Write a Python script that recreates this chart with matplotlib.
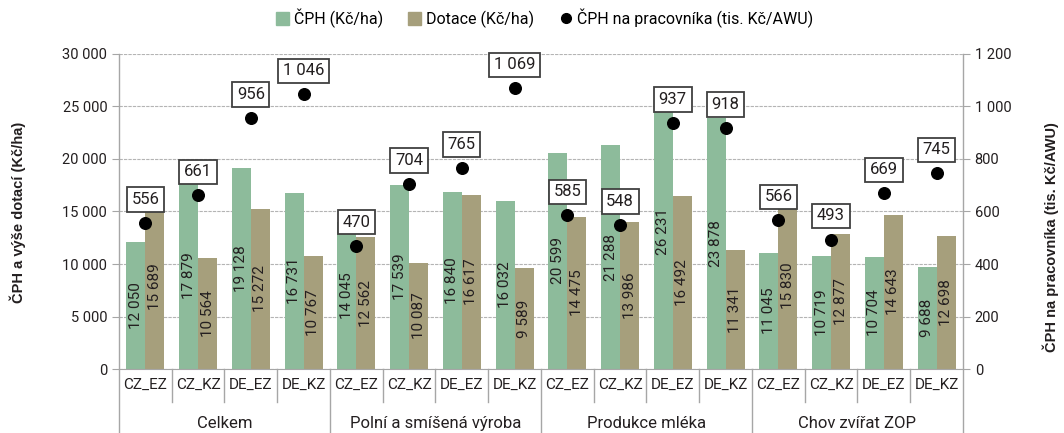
import matplotlib.pyplot as plt
from matplotlib.lines import Line2D
from matplotlib.patches import Patch
from matplotlib.ticker import FuncFormatter

# data
groups = ['Celkem', 'Polní a smíšená výroba', 'Produkce mléka', 'Chov zvířat ZOP']
subgroups = ['CZ_EZ', 'CZ_KZ', 'DE_EZ', 'DE_KZ']
cph = [12050, 17879, 19128, 16731, 14045, 17539, 16840, 16032,
       20599, 21288, 26231, 23878, 11045, 10719, 10704, 9688]
dotace = [15689, 10564, 15272, 10767, 12562, 10087, 16617, 9589,
          14475, 13986, 16492, 11341, 15830, 12877, 14643, 12698]
awu = [556, 661, 956, 1046, 470, 704, 765, 1069,
       585, 548, 937, 918, 566, 493, 669, 745]

green = '#8dbb9b'
brown = '#a69f7c'
gray = '#a6a6a6'
txt = '#231f20'
plt.rcParams['font.family'] = ['Roboto', 'DejaVu Sans']


def fmt(v):
    return f'{int(v):,}'.replace(',', ' ')


fig = plt.figure(figsize=(10.64, 4.33), dpi=100)
ax = fig.add_axes([0.1118, 0.1478, 0.7932, 0.7275])
ax2 = ax.twinx()

n = len(cph)
x = list(range(n))
w = 0.36
ax.bar([i - w / 2 for i in x], cph, width=w, color=green, zorder=2)
ax.bar([i + w / 2 for i in x], dotace, width=w, color=brown, zorder=2)

for i in x:
    ax.text(i - w / 2, cph[i] / 2, fmt(cph[i]), rotation=90, ha='center', va='center',
            fontsize=11, color=txt, zorder=3)
    ax.text(i + w / 2, dotace[i] / 2, fmt(dotace[i]), rotation=90, ha='center', va='center',
            fontsize=11, color=txt, zorder=3)

ax.set_xlim(-0.5, n - 0.5)
ax.set_ylim(0, 30000)
ax.set_yticks(range(0, 30001, 5000))
ax.yaxis.set_major_formatter(FuncFormatter(lambda v, p: fmt(v)))
ax.grid(axis='y', color='#b4b4b4', linestyle=(0, (3, 1)), linewidth=0.8, zorder=0)
ax.set_axisbelow(True)
ax.set_xticks([])

ax2.set_ylim(0, 1200)
ax2.set_yticks(range(0, 1201, 200))
ax2.yaxis.set_major_formatter(FuncFormatter(lambda v, p: fmt(v)))
ax2.scatter(x, awu, s=70, color='black', zorder=5)
for i in x:
    ax2.annotate(fmt(awu[i]), (i, awu[i]), xytext=(0, 17), textcoords='offset points',
                 ha='center', va='center', fontsize=12, color=txt, zorder=6,
                 bbox=dict(boxstyle='square,pad=0.28', fc='white', ec='#404040', lw=1.3))

for a in (ax, ax2):
    for s in ('top', 'left', 'right'):
        a.spines[s].set_visible(False)
    a.spines['bottom'].set_color(gray)
    a.tick_params(axis='y', colors=gray, labelcolor=txt, labelsize=10.5, length=5, width=0.8)
ax2.spines['bottom'].set_visible(False)

# axis lines and separators below the plot
tr = ax.get_xaxis_transform()
ax.add_line(Line2D([-0.5, -0.5], [1, -0.2], transform=tr, color=gray, lw=1, clip_on=False))
ax.add_line(Line2D([n - 0.5, n - 0.5], [1, -0.2], transform=tr, color=gray, lw=1, clip_on=False))
for k in range(1, n):
    low = -0.2 if k % 4 == 0 else -0.105
    ax.add_line(Line2D([k - 0.5, k - 0.5], [0, low], transform=tr, color=gray, lw=1, clip_on=False))
for i in x:
    ax.text(i, -0.05, subgroups[i % 4], transform=tr, ha='center', va='center',
            fontsize=11, color=txt)
for g, name in enumerate(groups):
    ax.text(g * 4 + 1.5, -0.172, name, transform=tr, ha='center', va='center',
            fontsize=12, color=txt)

fig.text(0.017, 0.51, 'ČPH a výše dotací (Kč/ha)', rotation=90, ha='center', va='center',
         fontsize=10.5, fontweight='bold', family='Liberation Sans', color=txt)
fig.text(0.988, 0.453, 'ČPH na pracovníka (tis. Kč/AWU)', rotation=90, ha='center', va='center',
         fontsize=10.5, fontweight='bold', family='Liberation Sans', color=txt)

handles = [Patch(color=green, label='ČPH (Kč/ha)'),
           Patch(color=brown, label='Dotace (Kč/ha)'),
           Line2D([], [], marker='o', color='black', linestyle='none', markersize=7,
                  label='ČPH na pracovníka (tis. Kč/AWU)')]
fig.legend(handles=handles, loc='center', bbox_to_anchor=(0.512, 0.958), ncol=3, frameon=False,
           fontsize=11.5, handlelength=0.8, handleheight=0.8, handletextpad=0.3, columnspacing=1.6)

fig.savefig('out.png', dpi=100)
